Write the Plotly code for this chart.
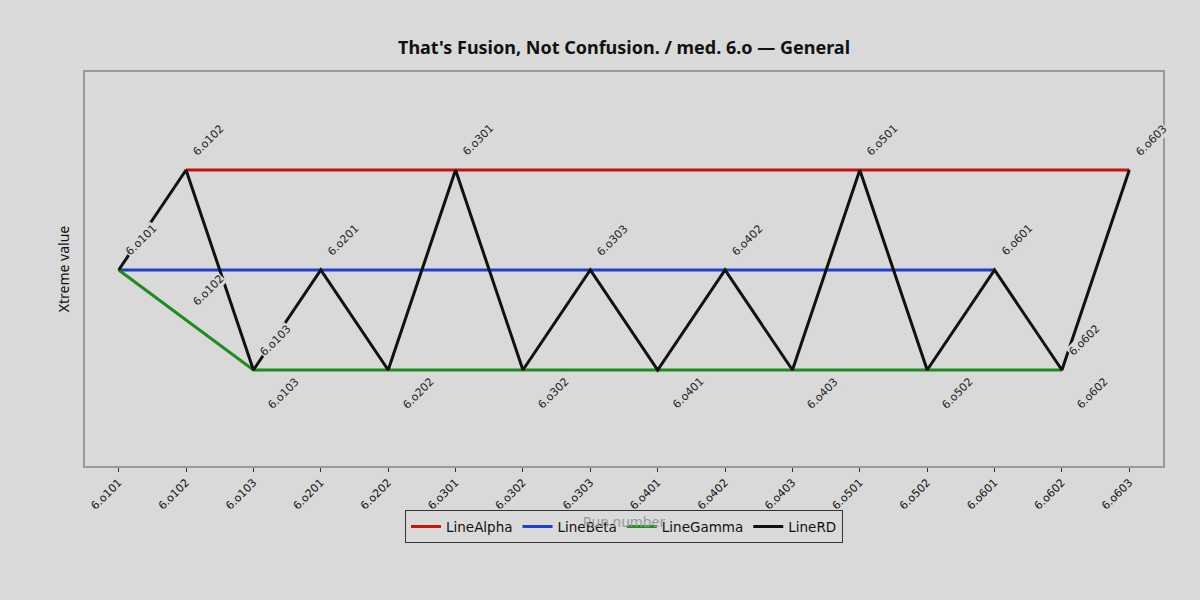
import plotly.graph_objects as go

runs = ["6.o101", "6.o102", "6.o103", "6.o201", "6.o202", "6.o301", "6.o302", "6.o303",
        "6.o401", "6.o402", "6.o403", "6.o501", "6.o502", "6.o601", "6.o602", "6.o603"]

line_alpha = [None, 1, None, None, None, 1, None, None, None, None, None, 1, None, None, None, 1]
line_beta = [0, None, None, 0, None, None, None, 0, None, 0, None, None, None, 0, None, None]
line_gamma = [0, None, -1, None, -1, None, -1, None, -1, None, -1, None, -1, None, -1, None]
line_rd = [0, 1, -1, 0, -1, 1, -1, 0, -1, 0, -1, 1, -1, 0, -1, 1]

# extra labels sitting on the black line
extra_runs = ["6.o102", "6.o103", "6.o602"]
extra_vals = [-0.5, -1, -1]

BG = "#d9d9d9"

fig = go.Figure()
fig.add_trace(go.Scatter(x=runs, y=line_alpha, mode="lines", name="LineAlpha",
                         connectgaps=True, line=dict(color="#cc1111", width=3)))
fig.add_trace(go.Scatter(x=runs, y=line_beta, mode="lines", name="LineBeta",
                         connectgaps=True, line=dict(color="#1f3fcc", width=3)))
fig.add_trace(go.Scatter(x=runs, y=line_gamma, mode="lines", name="LineGamma",
                         connectgaps=True, line=dict(color="#1e8c1e", width=3)))
fig.add_trace(go.Scatter(x=runs, y=line_rd, mode="lines", name="LineRD",
                         line=dict(color="#111111", width=3)))

lab_font = dict(family="DejaVu Sans", size=11, color="#222")


def label(x, y, above):
    fig.add_annotation(x=x, y=y, text=x, showarrow=False, textangle=-45,
                       xshift=22 if above else 30, yshift=30 if above else -23,
                       font=lab_font, bgcolor=BG, borderpad=0)


for r, v in zip(runs, line_rd):
    label(r, v, v >= 0)
for r, v in zip(extra_runs, extra_vals):
    label(r, v, True)

fig.update_layout(
    width=1200, height=600,
    paper_bgcolor=BG, plot_bgcolor=BG,
    margin=dict(l=85, r=37, t=72, b=134),
    title=dict(text="<b>That's Fusion, Not Confusion. / med. 6.o — General</b>",
               x=0.52, xanchor="center", y=0.92, yanchor="middle",
               font=dict(family="Noto Sans", size=18, color="#111")),
    showlegend=True,
    legend=dict(orientation="h", x=0.5, xanchor="center", y=-0.112, yanchor="top",
                itemwidth=30,
                bgcolor="rgba(217,217,217,0.85)", bordercolor="#333", borderwidth=1,
                font=dict(family="DejaVu Sans", size=13.5, color="#111")),
    xaxis=dict(type="category", range=[-0.5, 15.5], showgrid=False, zeroline=False,
               showline=True, mirror=True, linecolor="#999", linewidth=1.5,
               ticks="outside", ticklen=4, tickcolor="#333", tickangle=-45,
               tickfont=dict(family="DejaVu Sans", size=11, color="#111"),
               title=dict(text="Run number", standoff=0,
                          font=dict(family="Noto Sans", size=14, color="#999"))),
    yaxis=dict(range=[-1.96, 1.98], showgrid=False, zeroline=False,
               showline=True, mirror=True, linecolor="#999", linewidth=1.5,
               showticklabels=False, ticks="",
               title=dict(text="Xtreme value", standoff=10,
                          font=dict(family="Noto Sans", size=14, color="#111"))),
)

fig.write_html("out.html", config={"displayModeBar": False},
               post_script="document.body.style.margin='0';")
